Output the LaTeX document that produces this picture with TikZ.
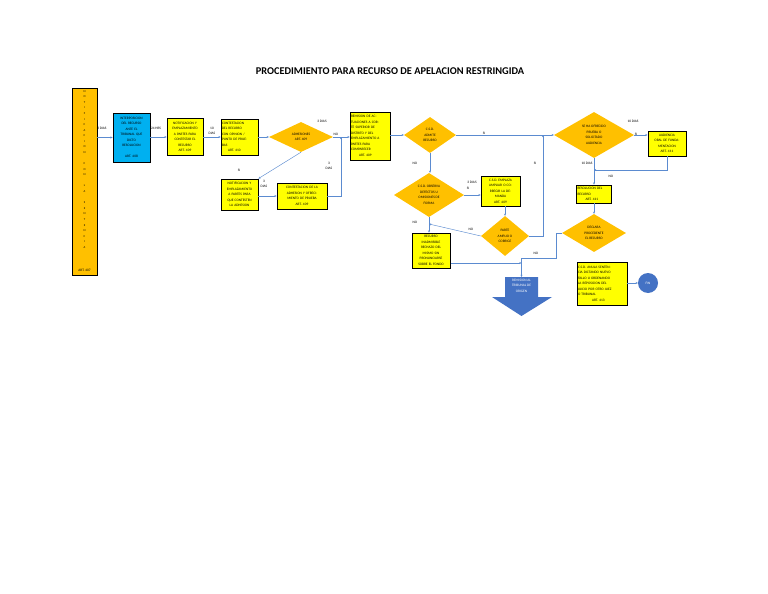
\documentclass[tikz,border=0pt]{standalone}
\usepackage{fontspec}
\setmainfont{Carlito}
\usetikzlibrary{shapes.geometric,arrows.meta}
\definecolor{ybox}{HTML}{FFFF00}
\definecolor{obox}{HTML}{FFC000}
\definecolor{cbox}{HTML}{00B0F0}
\definecolor{bshape}{HTML}{4472C4}
\definecolor{lcol}{HTML}{5B8BD0}
\begin{document}
\begin{tikzpicture}[x=1bp,y=-1bp,
 tx/.style={font=\fontsize{3.5}{5.5}\selectfont},
 lab/.style={tx, inner sep=0, text=black},
 box/.style={tx, draw=black, line width=0.8bp, fill=ybox, inner sep=0.6bp, align=center},
 dia/.style={tx, diamond, fill=obox, inner sep=0, align=center},
 conn/.style={draw=lcol, line width=0.45bp, -{Stealth[length=2.2bp,width=2bp]}},
 plainc/.style={draw=lcol, line width=0.45bp},
]
\fill[white] (0,0) rectangle (768,594);
\useasboundingbox (0,0) rectangle (768,594);

\node[font=\fontsize{10.4}{12}\selectfont\bfseries] (title) at (390,71) {PROCEDIMIENTO PARA RECURSO DE APELACION RESTRINGIDA};

% left vertical box
\node[box, fill=obox, minimum width=25bp, minimum height=187bp] (notif) at (84.5,181.5) {};
\node[font=\fontsize{3}{5.6}\selectfont, align=center, anchor=north, inner sep=0] (notiftxt) at (84.5,90) {N\\O\\T\\I\\F\\I\\C\\A\\C\\I\\O\\N\\\mbox{}\\C\\O\\N\\\mbox{}\\L\\A\\\mbox{}\\S\\E\\N\\T\\E\\N\\C\\I\\A};
\node[lab] (art407) at (84.5,270) {ART. 407};

% boxes
\node[box, fill=cbox, minimum width=37bp, minimum height=49bp, text width=35bp] (blue) at (131.5,137.5) {INTERPOSICION\\DEL RECURSO\\ANTE EL\\TRIBUNAL QUE\\DICTO\\RESOLUCION\\\mbox{}\\ART. 408};
\node[box, minimum width=36bp, minimum height=37bp, text width=34bp] (y1) at (185,137) {NOTIFICACION Y\\EMPLAZAMIENTO\\A PARTES PARA\\CONTESTAR EL\\RECURSO\\ART. 409};
\node[box, align=left, minimum width=37bp, minimum height=36bp, text width=35bp] (b2) at (239.5,137) {CONTESTACION\\DEL RECURSO\\CON OPINION /\\PUNTO DE PRUE-\\BAS\\\hspace{6bp}ART. 410};
\node[dia, minimum width=64bp, minimum height=30bp] (adh) at (301,137) {ADHESIONES\\ART. 409};
\node[box, minimum width=37bp, minimum height=31bp, text width=35bp] (nadh) at (239.5,194.5) {NOTIFICACION Y\\EMPLAZAMIENTO\\A PARTES PARA\\QUE CONTESTEN\\LA ADHESION};
\node[box, minimum width=50bp, minimum height=26bp, text width=48bp] (cadh) at (302,196) {CONTESTACION DE LA\\ADHESION Y OFRECI-\\MIENTO DE PRUEBA\\ART. 409};
\node[box, align=left, minimum width=40bp, minimum height=48bp, text width=38bp] (rem) at (370,136) {REMISION DE AC-\\TUACIONES A COR-\\TE SUPERIOR DE\\DISTRITO Y DEL\\EMPLAZAMIENTO A\\PARTES PARA\\COMPARECER\\\hspace{8bp}ART. 409};
\node[dia, minimum width=52bp, minimum height=36bp] (adm) at (430,135) {C.S.D.\\ADMITE\\RECURSO};
\node[dia, minimum width=70bp, minimum height=44bp] (obs) at (429,195) {C.S.D. OBSERVA\\DEFECTOS U\\OMISIONES DE\\FORMA};
\node[box, minimum width=39bp, minimum height=30bp, text width=37bp] (emp) at (500.5,191) {C.S.D. EMPLAZA\\AMPLIAR O CO-\\RREGIR LA DE-\\MANDA\\ART. 409};
\node[dia, minimum width=48bp, minimum height=40bp] (parte) at (505,236) {PARTE\\AMPLIO O\\CORRIGE};
\node[box, minimum width=38bp, minimum height=35bp, text width=37bp] (rin) at (431,250.5) {RECURSO\\INADMISIBLE\\RECHAZO DEL\\MISMO SIN\\PRONUNCIARSE\\SOBRE EL FONDO};
\node[dia, minimum width=80bp, minimum height=46bp] (seha) at (594,135) {SE HA OFRECIDO\\PRUEBA O\\SOLICITADO\\AUDIENCIA};
\node[box, minimum width=38bp, minimum height=25bp, text width=37bp] (aud) at (667,143.5) {AUDIENCIA\\ORAL DE FUNDA-\\MENTACION\\ART. 411};
\node[box, minimum width=35bp, minimum height=18bp, text width=33bp, align=left] (res) at (594,194) {RESOLUCION DEL\\RECURSO\\\hspace{8bp}ART. 411};
\node[dia, minimum width=64bp, minimum height=38bp] (decl) at (594,233) {DECLARA\\PROCEDENTE\\EL RECURSO};
\node[box, align=left, minimum width=50bp, minimum height=43bp, text width=48bp] (anula) at (602,283.5) {C.S.D. ANULA SENTEN-\\CIA DICTANDO NUEVO\\FALLO U ORDENANDO\\LA REPOSICION DEL\\JUICIO POR OTRO JUEZ\\O TRIBUNAL\\\hspace{14bp}ART. 413};
\node[tx, circle, fill=bshape, minimum size=20bp, inner sep=0, text=white] (fin) at (648,283) {FIN};

% blue down arrow
\fill[bshape] (505,277) -- (538,277) -- (538,297) -- (552,297) -- (521.5,316) -- (492,297) -- (505,297) -- cycle;
\node[tx, text=white, align=center, inner sep=0] (remt) at (521.5,285.5) {REMISION AL\\TRIBUNAL DE\\ORIGEN};

% coordinates
\coordinate (rt) at (521.5,277);
\coordinate (j1) at (341,137);
\coordinate (j2) at (429,224);
\coordinate (j3) at (543,135);
\coordinate (j4) at (521.5,263);
\coordinate (j5) at (594,170);
\coordinate (j6) at (521.5,258);

% connectors
\draw[conn] (notif.east |- blue.west) -- (blue.west);
\draw[conn] (blue.east |- y1.west) -- (y1.west);
\draw[conn] (y1.east) -- (b2.west);
\draw[conn] (b2.east) -- (adh.west);
\draw[conn] (adh.east) -- (adh.east -| rem.west);
\draw[conn] (adh.south) -- (nadh.north east);
\draw[conn] (nadh.east |- cadh.west) -- (cadh.west);
\draw[conn] (cadh.east) -| (j1);
\draw[conn] (rem.east |- adm.west) -- (adm.west);
\draw[conn] (adm.east) -- (seha.west);
\draw[conn] (adm.south) -- (adm.south |- obs.north);
\draw[conn] (obs.east) -- (obs.east -| emp.west);
\draw[conn] (obs.south) -- (obs.south |- rin.north);
\draw[conn] (parte.north |- emp.south) -- (parte.north);
\draw[conn] (parte.west) -- (j2);
\draw[conn] (parte.east) -| (j3);
\draw[conn] (rin.east |- j4) -- (j4);
\draw[plainc] (decl.west) -- ++(-6,0) |- (j6);
\draw[conn] (j6) -- (rt);
\draw[conn] (seha.east) -- (seha.east -| aud.west);
\draw[conn] (seha.south) -- (res.north);
\draw[conn] (aud.south) |- (j5);
\draw[conn] (res.south) -- (decl.north);
\draw[conn] (anula.east |- fin.west) -- (fin.west);

% labels
\node[lab] (l1) at (102,128) {3 DIAS};
\node[lab] (l2) at (156,128) {24 HRS};
\node[lab, align=center] (l3) at (212,131) {10\\DIAS};
\node[lab] (l4) at (322,121) {3 DIAS};
\node[lab] (l5) at (336,134) {NO};
\node[lab] (l6) at (239,170) {SI};
\node[lab, align=center] (l7) at (329,166) {3\\DIAS};
\node[lab, align=center] (l8) at (264,184) {3\\DIAS};
\node[lab] (l9) at (484,133) {SI};
\node[lab] (l10) at (415,163) {NO};
\node[lab] (l11) at (472,182) {3 DIAS};
\node[lab] (l12) at (468,188) {SI};
\node[lab] (l13) at (415,222) {NO};
\node[lab] (l14) at (471,229) {NO};
\node[lab] (l15) at (535,163) {SI};
\node[lab] (l16) at (536,253) {NO};
\node[lab] (l17) at (633,121) {10 DIAS};
\node[lab] (l18) at (636,134) {SI};
\node[lab] (l19) at (587,163) {10 DIAS};
\node[lab] (l20) at (611,176) {NO};
\end{tikzpicture}
\end{document}
